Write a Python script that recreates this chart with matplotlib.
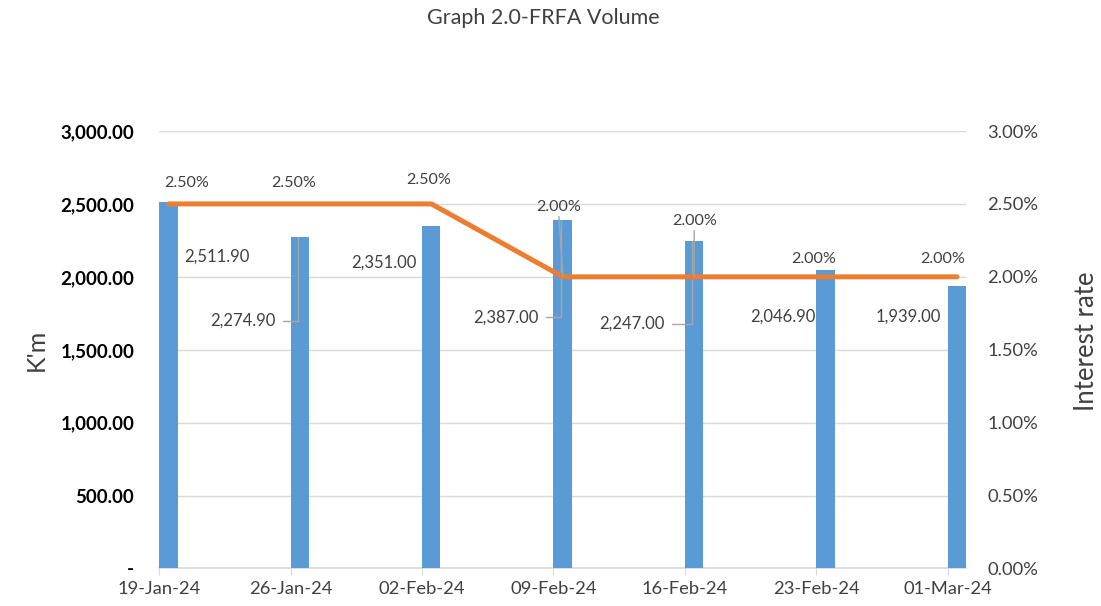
import matplotlib
matplotlib.use("Agg")
import matplotlib.pyplot as plt
import matplotlib.dates as mdates
from matplotlib.ticker import FuncFormatter, MultipleLocator
import numpy as np
import datetime as dt

# ---- data ----
dates = ["2024-01-19", "2024-01-26", "2024-02-02", "2024-02-09",
         "2024-02-16", "2024-02-23", "2024-03-01"]
volume = [2511.90, 2274.90, 2351.00, 2387.00, 2247.00, 2046.90, 1939.00]
rate = [2.50, 2.50, 2.50, 2.00, 2.00, 2.00, 2.00]
tick_labels = ["19-Jan-24", "26-Jan-24", "02-Feb-24", "09-Feb-24",
               "16-Feb-24", "23-Feb-24", "01-Mar-24"]
title = "Graph 2.0-FRFA Volume"
left_label = "K'm"
right_label = "Interest rate"

# ---- layout / style ----
plt.rcParams['font.family'] = ['Lato', 'DejaVu Sans']
BAR_C = "#5b9bd5"
LINE_C = "#ed7d31"
GRID_C = "#d9d9d9"
TXT_C = "#404040"
LEAD_C = "#a6a6a6"

x = [dt.datetime.strptime(d, "%Y-%m-%d") for d in dates]
xn = mdates.date2num(x)
xc = xn + 0.5  # bar centres

fig = plt.figure(figsize=(11.01, 6.06), dpi=100)
ax = fig.add_axes([0.1447, 0.0619, 0.8777 - 0.1447, 0.7838 - 0.0619])
ax2 = ax.twinx()

ax.bar(xn, volume, width=0.98, align='edge', color=BAR_C, zorder=2)
ax.set_xlim(xn[0], xn[-1] + 1)
ax.set_ylim(0, 3000)
ax.yaxis.set_major_locator(MultipleLocator(500))
ax.yaxis.set_major_formatter(FuncFormatter(lambda v, p: "-" if v == 0 else f"{v:,.2f}"))
ax.grid(axis='y', color=GRID_C, lw=1, zorder=0)
ax.set_axisbelow(True)
ax.set_xticks(xn)
ax.set_xticklabels(tick_labels)
ax.tick_params(axis='x', length=5, color=GRID_C, labelsize=13.2, labelcolor=TXT_C, pad=4)
ax.tick_params(axis='y', length=0, labelsize=13.5, pad=18)
for lab in ax.get_yticklabels():
    lab.set_fontweight('bold')
    lab.set_color('black')
for s in ['top', 'left', 'right']:
    ax.spines[s].set_visible(False)
ax.spines['bottom'].set_color(GRID_C)
ax.spines['bottom'].set_linewidth(1.2)
ax.spines['bottom'].set_zorder(1)

ax2.plot(xc, rate, color=LINE_C, lw=3.6, solid_capstyle='round',
         solid_joinstyle='round', zorder=3)
ax2.set_ylim(0, 3)
ax2.yaxis.set_major_locator(MultipleLocator(0.5))
ax2.yaxis.set_major_formatter(FuncFormatter(lambda v, p: f"{v:.2f}%"))
ax2.tick_params(axis='y', length=0, labelsize=13.2, labelcolor=TXT_C, pad=15)
for s in ['top', 'left', 'right', 'bottom']:
    ax2.spines[s].set_visible(False)

ax.set_ylabel(left_label, fontsize=18, color=TXT_C)
ax2.set_ylabel(right_label, fontsize=18.5, color=TXT_C, rotation=90,
               ha='center', va='center')
ax.yaxis.label.set_va('center')
ax.yaxis.label.set_ha('center')
ax.yaxis.set_label_coords(-0.153, 0.5)
ax2.yaxis.set_label_coords(1.1495, 0.52)

fig.text(0.4935, 0.97, title, ha='center', va='center', fontsize=15.5, color=TXT_C)

# bar value labels (offset in pixels from bar top)
vol_off = [(50, -54), (-55, -84), (-46, -37), (-55, -97), (-60, -83), (-41, -47), (-47, -31)]
vol_leader = [False, True, False, True, True, False, False]
for xi, v, (dx, dy), ld in zip(xc, volume, vol_off, vol_leader):
    kw = {}
    if ld:
        kw = dict(arrowprops=dict(arrowstyle='-', color=LEAD_C, lw=1,
                                  connectionstyle='angle,angleA=0,angleB=90,rad=0',
                                  shrinkA=3, shrinkB=0, relpos=(1, 0.5)))
    ax.annotate(f"{v:,.2f}", xy=(xi - 0.1, v), xytext=(dx, dy), textcoords='offset pixels',
                ha='center', va='center', fontsize=12, color=TXT_C, zorder=5, **kw)

# rate labels
rate_off = [(18, 21), (-6, 21), (-3, 24), (-4, 70), (0, 56), (-12, 18), (-14, 18)]
rate_leader = [False, False, False, True, True, False, False]
for xi, r, (dx, dy), ld in zip(xc, rate, rate_off, rate_leader):
    kw = {}
    if ld:
        kw = dict(arrowprops=dict(arrowstyle='-', color=LEAD_C, lw=1,
                                  shrinkA=0, shrinkB=0, relpos=(0.5, 0)))
    ax2.annotate(f"{r:.2f}%", xy=(xi, r), xytext=(dx, dy), textcoords='offset pixels',
                 ha='center', va='center', fontsize=11.6, color=TXT_C, zorder=5, **kw)

fig.savefig("out.png", dpi=100)
